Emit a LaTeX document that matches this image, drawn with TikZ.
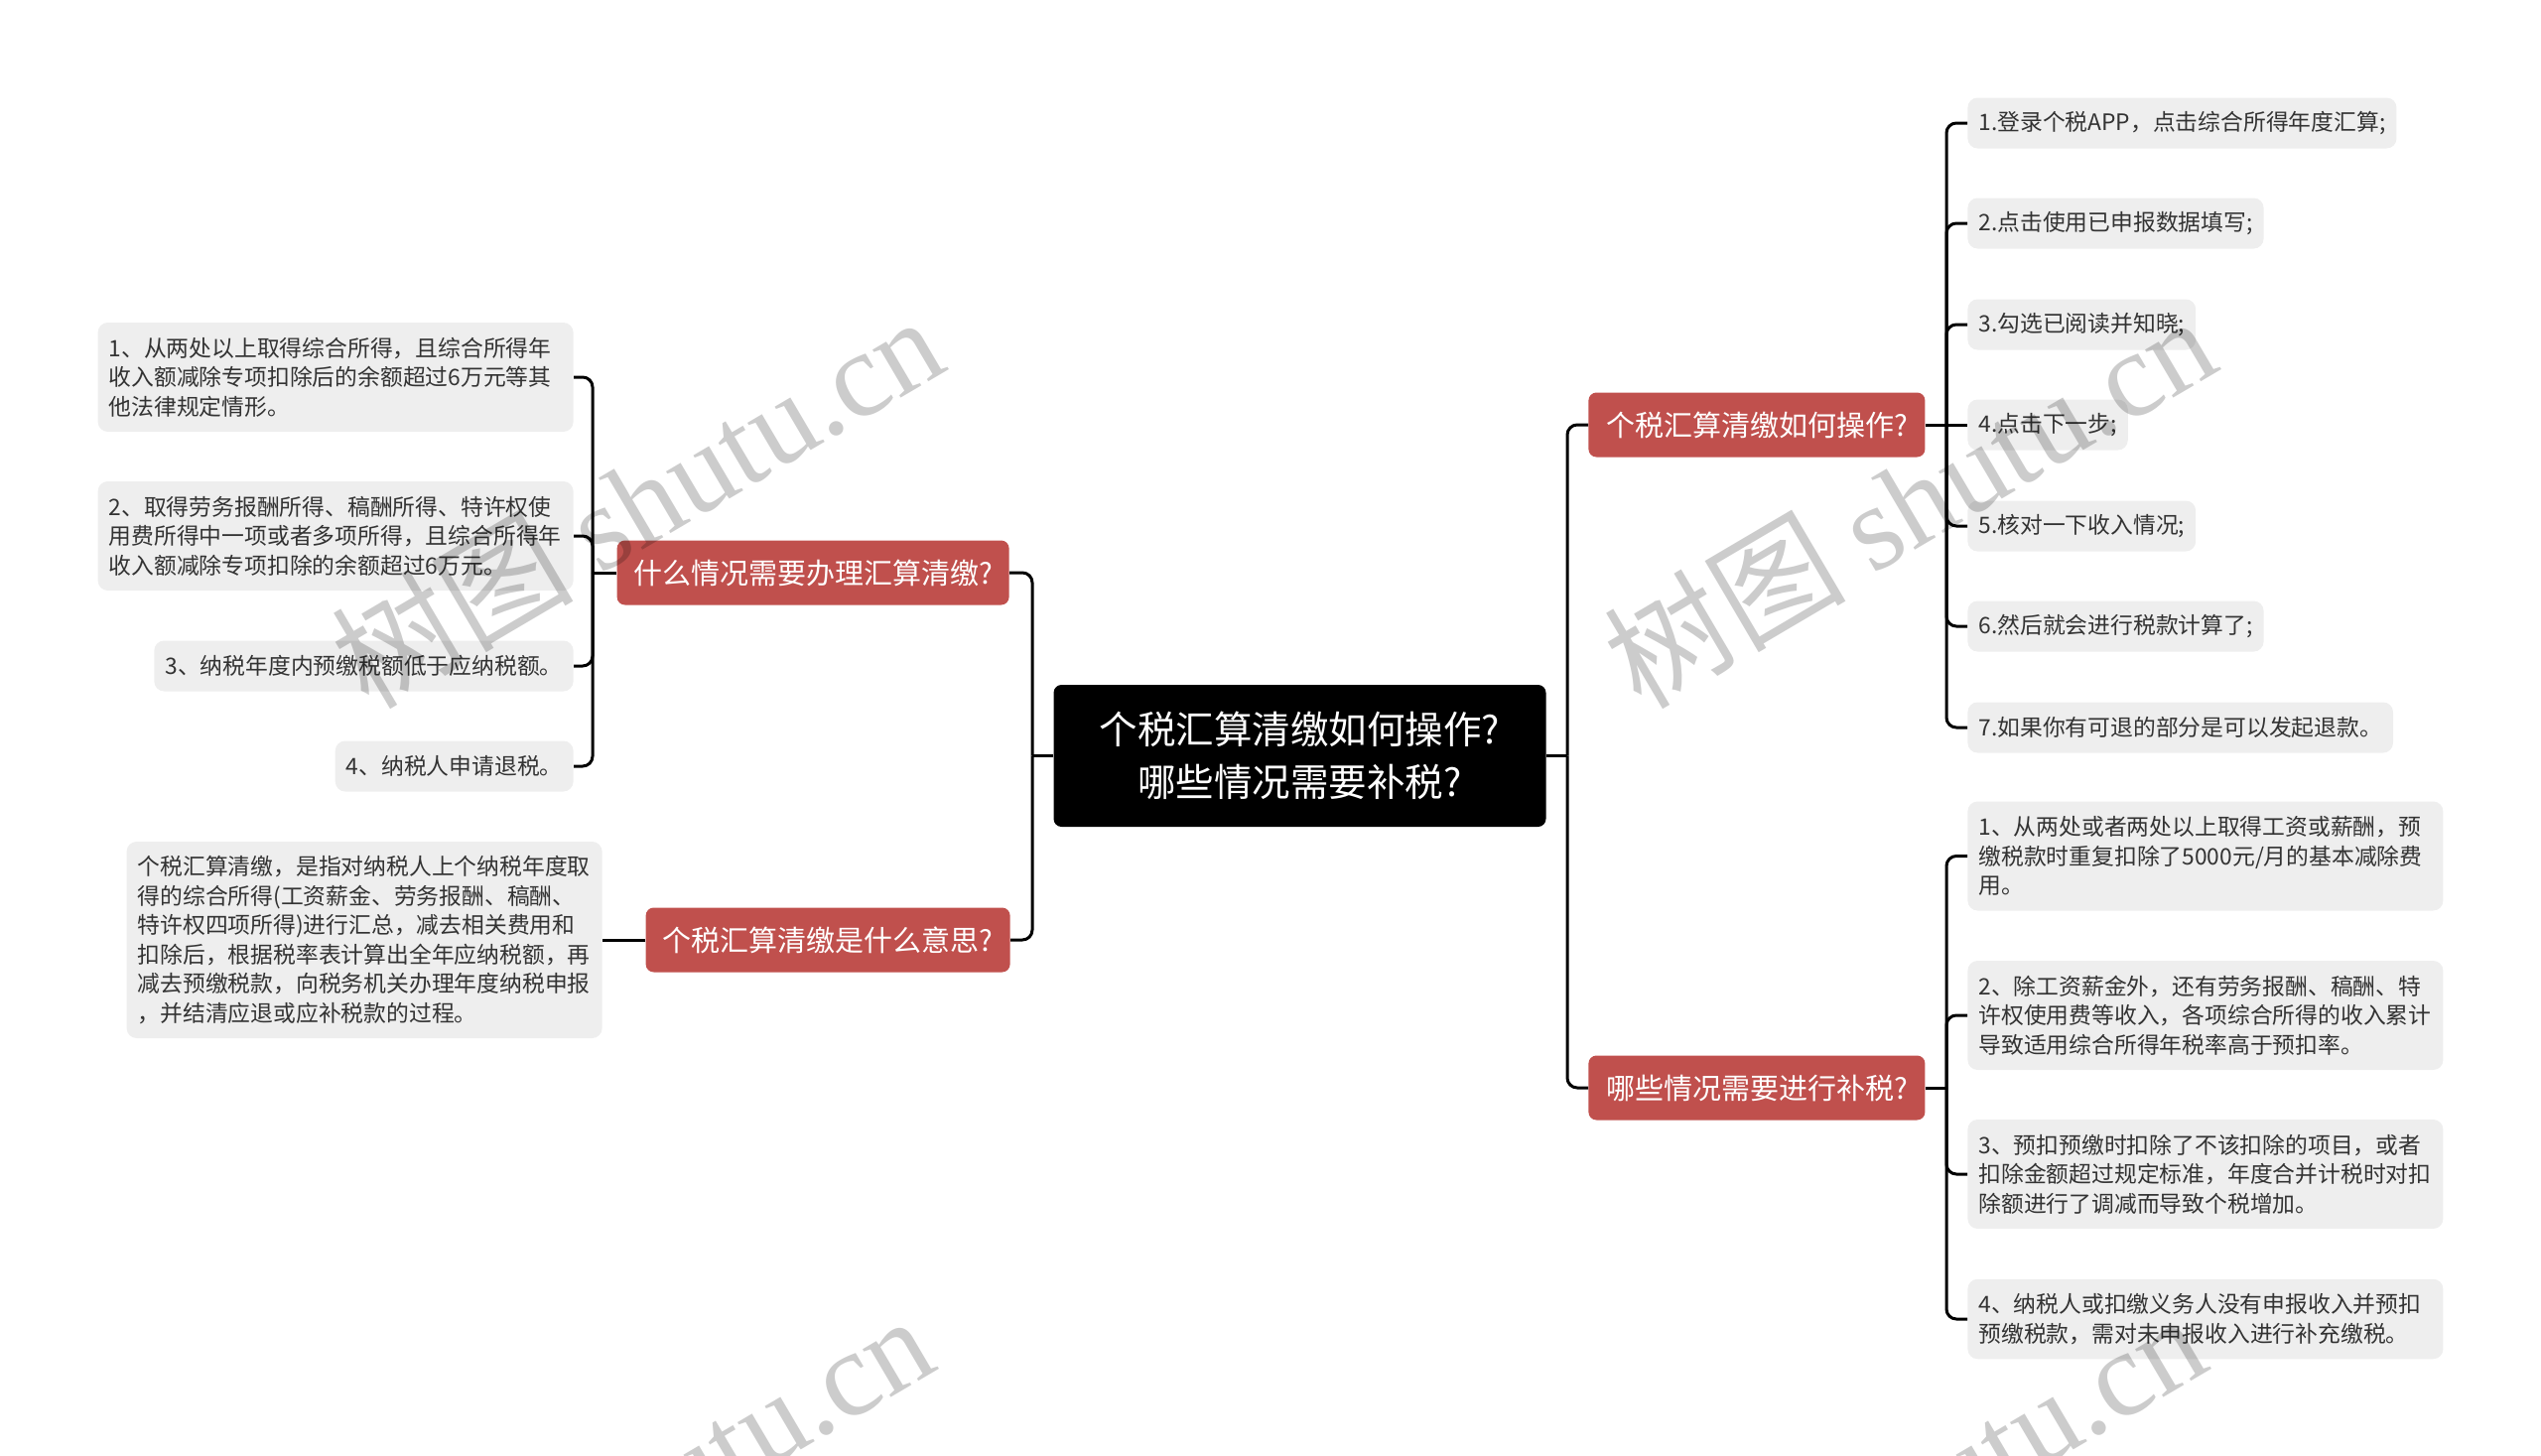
\documentclass[tikz,border=0pt]{standalone}
\usepackage{fontspec}
\setmainfont{Noto Sans CJK SC}
\newfontfamily\wmserif{Liberation Serif}
\definecolor{redzero}{HTML}{C0504D}
\definecolor{leafgray}{HTML}{EEEEEE}
\definecolor{leaftext}{HTML}{333333}
\tikzset{
  rootbox/.style={fill=black, text=white, rounded corners=4pt, minimum width=248pt, minimum height=71.5pt,
    align=center, inner sep=0pt, font=\fontsize{19.25pt}{26.5pt}\selectfont},
  redbox/.style={fill=redzero, text=white, rounded corners=4pt, minimum height=32.5pt, inner sep=0pt,
    font=\fontsize{14.5pt}{17pt}\selectfont},
  leafbox/.style={fill=leafgray, text=leaftext, rounded corners=5pt, inner xsep=5.5pt, inner ysep=0pt,
    align=left, font=\fontsize{11.4pt}{14.75pt}\selectfont},
  wide/.style={text width=228.5pt},
  one/.style={minimum height=25.5pt},
  two/.style={minimum height=40.25pt},
  three/.style={minimum height=55pt},
  six/.style={minimum height=99pt},
  conn/.style={line width=1.5pt, rounded corners=5pt},
  wm/.style={text=black, text opacity=0.2, rotate=30.5, font=\fontsize{61pt}{63pt}\selectfont, inner sep=0pt},
}
\begin{document}
\begin{tikzpicture}[x=0.5pt, y=-0.5pt]
\useasboundingbox (0,0) rectangle (2560,1467);
\clip (0,0) rectangle (2560,1467);
% root
\node[rootbox] (root) at (1309.5,761.5) {个税汇算清缴如何操作?\\哪些情况需要补税?};
% level 1
\node[redbox, minimum width=197.5pt, anchor=east] (q1) at (1017,577) {什么情况需要办理汇算清缴?};
\node[redbox, minimum width=183.5pt, anchor=east] (q2) at (1018,947) {个税汇算清缴是什么意思?};
\node[redbox, minimum width=169.5pt, anchor=west] (q3) at (1600,428) {个税汇算清缴如何操作?};
\node[redbox, minimum width=169.5pt, anchor=west] (q4) at (1600,1096) {哪些情况需要进行补税?};
% left leaves
\node[leafbox, wide, three, anchor=east] (l1) at (578,380) {1、从两处以上取得综合所得，且综合所得年\\收入额减除专项扣除后的余额超过6万元等其\\他法律规定情形。};
\node[leafbox, wide, three, anchor=east] (l2) at (578,540) {2、取得劳务报酬所得、稿酬所得、特许权使\\用费所得中一项或者多项所得，且综合所得年\\收入额减除专项扣除的余额超过6万元。};
\node[leafbox, one, anchor=east] (l3) at (578,671) {3、纳税年度内预缴税额低于应纳税额。};
\node[leafbox, one, anchor=east] (l4) at (578,772) {4、纳税人申请退税。};
\node[leafbox, wide, six, anchor=east] (m1) at (607,947) {个税汇算清缴，是指对纳税人上个纳税年度取\\得的综合所得(工资薪金、劳务报酬、稿酬、\\特许权四项所得)进行汇总，减去相关费用和\\扣除后，根据税率表计算出全年应纳税额，再\\减去预缴税款，向税务机关办理年度纳税申报\\，并结清应退或应补税款的过程。};
% right upper leaves
\node[leafbox, one, anchor=west] (r1) at (1982,124) {1.登录个税APP，点击综合所得年度汇算;};
\node[leafbox, one, anchor=west] (r2) at (1982,225) {2.点击使用已申报数据填写;};
\node[leafbox, one, anchor=west] (r3) at (1982,327) {3.勾选已阅读并知晓;};
\node[leafbox, one, anchor=west] (r4) at (1982,428) {4.点击下一步;};
\node[leafbox, one, anchor=west] (r5) at (1982,530) {5.核对一下收入情况;};
\node[leafbox, one, anchor=west] (r6) at (1982,631) {6.然后就会进行税款计算了;};
\node[leafbox, one, anchor=west] (r7) at (1982,733) {7.如果你有可退的部分是可以发起退款。};
% right lower leaves
\node[leafbox, wide, three, anchor=west] (s1) at (1982,862.5) {1、从两处或者两处以上取得工资或薪酬，预\\缴税款时重复扣除了5000元/月的基本减除费\\用。};
\node[leafbox, wide, three, anchor=west] (s2) at (1982,1023) {2、除工资薪金外，还有劳务报酬、稿酬、特\\许权使用费等收入，各项综合所得的收入累计\\导致适用综合所得年税率高于预扣率。};
\node[leafbox, wide, three, anchor=west] (s3) at (1982,1183) {3、预扣预缴时扣除了不该扣除的项目，或者\\扣除金额超过规定标准，年度合并计税时对扣\\除额进行了调减而导致个税增加。};
\node[leafbox, wide, two, anchor=west] (s4) at (1982,1329) {4、纳税人或扣缴义务人没有申报收入并预扣\\预缴税款，需对未申报收入进行补充缴税。};
% junction coordinates
\coordinate (jl) at (1040,761.5);
\coordinate (jr) at (1579,761.5);
\coordinate (j1) at (597,577);
\coordinate (j3) at (1961,428);
\coordinate (j4) at (1961,1096);
% connectors
\draw[conn] (root.west) -- (jl);
\draw[conn] (jl) |- (q1.east);
\draw[conn] (jl) |- (q2.east);
\draw[conn] (root.east) -- (jr);
\draw[conn] (jr) |- (q3.west);
\draw[conn] (jr) |- (q4.west);
\draw[conn] (q1.west) -- (j1);
\draw[conn] (j1) |- (l1.east);
\draw[conn] (j1) |- (l2.east);
\draw[conn] (j1) |- (l3.east);
\draw[conn] (j1) |- (l4.east);
\draw[conn] (q2.west) -- (m1.east);
\draw[conn] (q3.east) -- (j3);
\draw[conn] (j3) |- (r1.west);
\draw[conn] (j3) |- (r2.west);
\draw[conn] (j3) |- (r3.west);
\draw[conn] (j3) -- (r4.west);
\draw[conn] (j3) |- (r5.west);
\draw[conn] (j3) |- (r6.west);
\draw[conn] (j3) |- (r7.west);
\draw[conn] (q4.east) -- (j4);
\draw[conn] (j4) |- (s1.west);
\draw[conn] (j4) |- (s2.west);
\draw[conn] (j4) |- (s3.west);
\draw[conn] (j4) |- (s4.west);
% watermarks
\node[wm] (w1) at (641,504) {树图 {\wmserif shutu.cn}};
\node[wm] (w2) at (1923,504) {树图 {\wmserif shutu.cn}};
\node[wm] (w3) at (631,1511) {树图 {\wmserif shutu.cn}};
\node[wm] (w4) at (1913,1511) {树图 {\wmserif shutu.cn}};
\end{tikzpicture}
\end{document}
